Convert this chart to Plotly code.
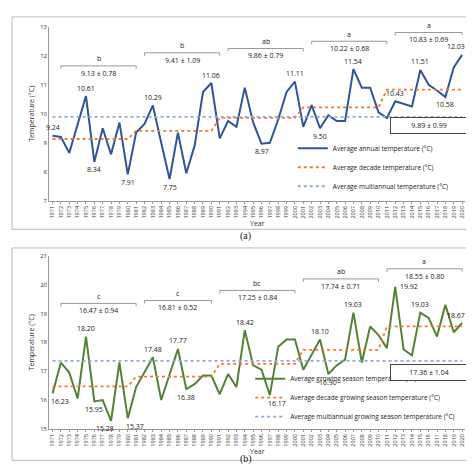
import plotly.graph_objects as go

years = list(range(1971, 2021))
annual = [9.24,9.2,8.65,9.6,10.61,8.34,9.5,8.6,9.7,7.91,9.35,9.65,10.29,9.0,7.75,9.35,7.95,8.9,10.75,11.06,
          9.15,9.75,9.55,10.9,9.7,8.97,9.0,9.8,10.75,11.11,9.55,10.3,9.50,9.95,9.75,9.75,11.54,10.9,10.9,10.05,
          9.85,10.43,10.35,10.25,11.51,11.0,10.8,10.58,11.6,12.03]
growing = [16.23,17.3,16.95,16.05,18.20,15.95,16.0,15.28,17.3,15.37,16.45,16.95,17.48,16.0,16.9,17.77,16.38,16.55,16.85,16.85,
           16.2,16.9,16.45,18.42,17.2,17.05,16.17,17.85,18.1,18.1,17.05,17.55,18.10,16.90,17.2,17.4,19.03,17.3,18.55,18.25,
           17.8,19.92,17.75,17.55,19.03,18.85,18.2,19.3,18.35,18.67]
decade_a = [9.13,9.41,9.86,10.22,10.83]
decade_b = [16.47,16.81,17.25,17.74,18.55]
multi_a, multi_a_sd = 9.89, 0.99
multi_b, multi_b_sd = 17.36, 1.04
sd_a = [0.78,1.09,0.79,0.68,0.69]
sd_b = [0.94,0.52,0.84,0.71,0.80]
letters_a = ["b","b","ab","a","a"]
letters_b = ["c","c","bc","ab","a"]
brk_a = [(1972,1981,11.65),(1982,1991,12.1),(1992,2001,12.25),(2002,2011,12.5),(2012,2020,12.8)]
brk_b = [(1972,1981,19.35),(1982,1990,19.45),(1991,2000,19.8),(2001,2010,20.2),(2011,2020,20.55)]
lab_a = {1971:"above",1975:"above",1976:"below",1980:"below",1983:"above",1985:"below",1990:"above",1996:"below",
         2000:"above",2003:"below",2007:"above",2012:"above",2015:"above",2018:"below",2020:"aboveleft"}
lab_b = {1971:"belowright",1975:"above",1976:"below",1978:"belowleft",1980:"belowright",1983:"above",1986:"above",1987:"below",
         1994:"above",1997:"belowright",2003:"above",2004:"below",2007:"above",2012:"right",2015:"above",2020:"aboveleft"}

fig = go.Figure()
F = "Open Sans"

def panel(vals, dec, multi, xa, ya, lg, names, color):
    dy = [dec[i//10] for i in range(50)]
    fig.add_trace(go.Scatter(x=years, y=vals, mode="lines", line=dict(color=color, width=2), name=names[0],
                             xaxis=xa, yaxis=ya, legend=lg))
    fig.add_trace(go.Scatter(x=years, y=dy, mode="lines", line=dict(color="#ED7D31", width=1.8, dash="dot"),
                             name=names[1], xaxis=xa, yaxis=ya, legend=lg))
    fig.add_trace(go.Scatter(x=years, y=[multi]*50, mode="lines", line=dict(color="#8FAADC", width=1.8, dash="dot"),
                             name=names[2], xaxis=xa, yaxis=ya, legend=lg))

panel(annual, decade_a, multi_a, "x", "y", "legend",
      ["Average annual temperature (°C)", "Average decade temperature (°C)", "Average multiannual temperature (°C)"], "#2F5597")
panel(growing, decade_b, multi_b, "x2", "y2", "legend2",
      ["Average growing season temperature (°C)", "Average decade growing season temperature (°C)",
       "Average multiannual growing season temperature (°C)"], "#548235")

ann = []
shapes = []
def labels(vals, labs, xr, yr):
    for yv, pos in labs.items():
        v = vals[yv-1971]
        d = dict(x=yv, y=v, xref=xr, yref=yr, text=f"{v:.2f}", showarrow=False, font=dict(size=7, family=F, color="#222"))
        if pos.startswith("above"): d["yshift"] = 8
        elif pos.startswith("below"): d["yshift"] = -8
        else: d["xshift"] = 14
        if pos.endswith("left"): d["xshift"] = -6
        if pos.endswith("right") and pos != "right": d["xshift"] = 7
        ann.append(d)
def brackets(brk, letters, dec, sd, xr, yr, dh, dt):
    for (a, b, h), l, m, s in zip(brk, letters, dec, sd):
        shapes.append(dict(type="path", xref=xr, yref=yr, path=f"M {a},{h-dh} L {a},{h} L {b},{h} L {b},{h-dh}",
                           line=dict(color="#999", width=1)))
        ann.append(dict(x=(a+b)/2, y=h, xref=xr, yref=yr, text=l, showarrow=False, yshift=7, font=dict(size=7, family=F, color="#222")))
        ann.append(dict(x=(a+b)/2, y=h-dt, xref=xr, yref=yr, text=f"{m:.2f} ± {s:.2f}", showarrow=False, font=dict(size=7, family=F, color="#222")))
labels(annual, lab_a, "x", "y")
labels(growing, lab_b, "x2", "y2")
brackets(brk_a, letters_a, decade_a, sd_a, "x", "y", 0.1, 0.25)
brackets(brk_b, letters_b, decade_b, sd_b, "x2", "y2", 0.1, 0.25)
ann.append(dict(x=2016, y=9.6, xref="x", yref="y", text=f"{multi_a:.2f} ± {multi_a_sd:.2f}", showarrow=False,
                bordercolor="#444", borderwidth=1, borderpad=3, bgcolor="white", font=dict(size=7, family=F, color="#222"), width=70))
ann.append(dict(x=2016, y=16.95, xref="x2", yref="y2", text=f"{multi_b:.2f} ± {multi_b_sd:.2f}", showarrow=False,
                bordercolor="#444", borderwidth=1, borderpad=3, bgcolor="white", font=dict(size=7, family=F, color="#222"), width=70))
ann.append(dict(x=0.5, y=1-228/474, xref="paper", yref="paper", text="(a)", showarrow=False, font=dict(size=10, family="Liberation Serif", color="#222")))
ann.append(dict(x=0.5, y=1-463/474, xref="paper", yref="paper", text="(b)", showarrow=False, font=dict(size=10, family="Liberation Serif", color="#222")))
shapes.append(dict(type="rect", xref="paper", yref="paper", x0=3/474, x1=470/474, y0=1-221/474, y1=1-5/474, line=dict(color="#bbb", width=1)))
shapes.append(dict(type="rect", xref="paper", yref="paper", x0=3/474, x1=470/474, y0=1-456/474, y1=1-240/474, line=dict(color="#bbb", width=1)))

ax = dict(tickmode="array", tickvals=years, ticktext=[str(y) for y in years], tickangle=-90, range=[1970.6, 2020.4],
          tickfont=dict(size=5.5, family=F, color="#333"), showline=True, linecolor="#999", ticks="outside", ticklen=2,
          tickcolor="#999", showgrid=False, title=dict(text="Year", font=dict(size=7, family=F, color="#333"), standoff=2))
ay = dict(showgrid=False, showline=True, linecolor="#999", tickfont=dict(size=6, family=F, color="#333"),
          title=dict(text="Temperature (°C)", font=dict(size=7, family=F, color="#333"), standoff=4), dtick=1)
leg = dict(font=dict(size=6.5, family=F, color="#222"), bgcolor="rgba(255,255,255,0)", xanchor="left", yanchor="bottom",
           tracegroupgap=0, itemwidth=30)
fig.update_layout(
    width=474, height=474, margin=dict(l=0, r=0, t=0, b=0), paper_bgcolor="white", plot_bgcolor="white",
    xaxis=dict(ax, domain=[0.085, 0.965], anchor="y"),
    yaxis=dict(ay, domain=[1-192/474, 1-15/474], range=[7, 13], anchor="x"),
    xaxis2=dict(ax, domain=[0.085, 0.965], anchor="y2"),
    yaxis2=dict(ay, domain=[1-424/474, 1-248/474], range=[15, 21], anchor="x2"),
    legend=dict(leg, x=0.6, y=1-192/474),
    legend2=dict(leg, x=0.51, y=1-424/474-0.005),
    annotations=ann, shapes=shapes, showlegend=True,
)
fig.write_html("out.html")
